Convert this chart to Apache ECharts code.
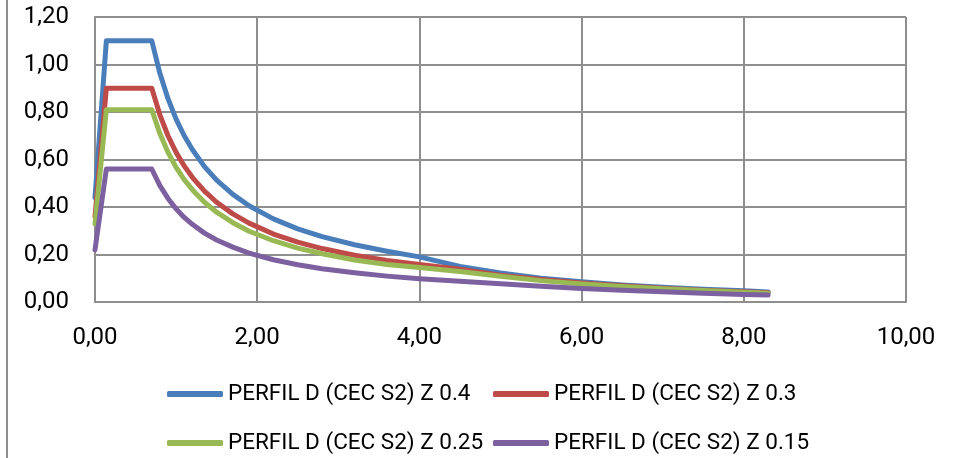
<!DOCTYPE html>
<html>
<head>
<meta charset="utf-8">
<script src="https://cdn.jsdelivr.net/npm/echarts@6/dist/echarts.min.js"></script>
<style>
html,body{margin:0;padding:0;background:#fff;}
#chart{width:961px;height:458px;}
</style>
</head>
<body>
<div id="chart"></div>
<script>
var periods = [0, 0.14, 0.70, 0.8, 0.9, 1.0, 1.1, 1.2, 1.35, 1.5, 1.7, 1.9, 2.2, 2.5, 2.8, 3.2, 3.6, 4.0, 4.5, 5.0, 5.5, 6.0, 6.5, 7.0, 7.5, 8.0, 8.3];
var seriesNames = ['PERFIL D (CEC S2) Z 0.4', 'PERFIL D (CEC S2) Z 0.3', 'PERFIL D (CEC S2) Z 0.25', 'PERFIL D (CEC S2) Z 0.15'];
var z040 = [0.44, 1.10, 1.10, 0.963, 0.856, 0.77, 0.70, 0.642, 0.570, 0.513, 0.453, 0.405, 0.350, 0.308, 0.275, 0.241, 0.214, 0.19, 0.15, 0.122, 0.10, 0.085, 0.072, 0.062, 0.054, 0.047, 0.042];
var z030 = [0.36, 0.90, 0.90, 0.788, 0.70, 0.63, 0.573, 0.525, 0.467, 0.42, 0.371, 0.332, 0.286, 0.252, 0.225, 0.197, 0.175, 0.158, 0.138, 0.113, 0.095, 0.08, 0.068, 0.058, 0.05, 0.043, 0.039];
var z025 = [0.33, 0.81, 0.81, 0.709, 0.63, 0.567, 0.515, 0.473, 0.42, 0.378, 0.334, 0.298, 0.258, 0.227, 0.203, 0.177, 0.158, 0.145, 0.128, 0.108, 0.09, 0.076, 0.065, 0.056, 0.048, 0.041, 0.037];
var z015 = [0.22, 0.56, 0.56, 0.49, 0.436, 0.392, 0.356, 0.327, 0.29, 0.261, 0.231, 0.206, 0.178, 0.157, 0.14, 0.123, 0.109, 0.098, 0.087, 0.077, 0.066, 0.057, 0.049, 0.043, 0.037, 0.032, 0.029];
var colors = ['#4A7EBB', '#BE4B48', '#98B954', '#7D60A0'];

function pairs(vals) { return periods.map(function (t, i) { return [t, vals[i]]; }); }
function fmt(v) { return v.toFixed(2).replace('.', ','); }

var allVals = [z040, z030, z025, z015];
var series = allVals.map(function (v, i) {
  return {
    name: seriesNames[i], type: 'line', data: pairs(v), showSymbol: false, symbol: 'none',
    lineStyle: { color: colors[i], width: 5, join: 'round', cap: 'round' },
    itemStyle: { color: colors[i] }, animation: false
  };
});

var chart = echarts.init(document.getElementById('chart'), null, { renderer: 'canvas' });
var font = 'Roboto, "Liberation Sans", sans-serif';
var legendText = { color: '#000', fontSize: 22.5, fontFamily: font, lineHeight: 26 };
chart.setOption({
  backgroundColor: '#fff',
  animation: false,
  color: colors,
  grid: { left: 95, right: 55, top: 17, bottom: 156, containLabel: false },
  xAxis: {
    type: 'value', min: 0, max: 10, interval: 2,
    axisLine: { show: true, lineStyle: { color: '#8f8f8f', width: 2 } },
    axisTick: { show: false },
    splitLine: { show: true, lineStyle: { color: '#8f8f8f', width: 2 } },
    axisLabel: { formatter: fmt, color: '#000', fontSize: 24, fontFamily: font, lineHeight: 26, margin: 23 }
  },
  yAxis: {
    type: 'value', min: 0, max: 1.2, interval: 0.2,
    axisLine: { show: true, lineStyle: { color: '#8f8f8f', width: 2 } },
    axisTick: { show: false },
    splitLine: { show: true, lineStyle: { color: '#8f8f8f', width: 2 } },
    axisLabel: { formatter: fmt, color: '#000', fontSize: 24, fontFamily: font, margin: 26 }
  },
  legend: [
    {
      data: [seriesNames[0], seriesNames[2]], orient: 'vertical', left: 167, top: 381, padding: 0,
      itemWidth: 56, itemHeight: 6, itemGap: 23, icon: 'roundRect',
      textStyle: legendText
    },
    {
      data: [seriesNames[1], seriesNames[3]], orient: 'vertical', left: 493, top: 381, padding: 0,
      itemWidth: 56, itemHeight: 6, itemGap: 23, icon: 'roundRect',
      textStyle: legendText
    }
  ],
  graphic: [{
    type: 'line', shape: { x1: 7, y1: 0, x2: 7, y2: 458 },
    style: { stroke: '#8f8f8f', lineWidth: 2 }
  }],
  series: series
});
</script>
</body>
</html>
